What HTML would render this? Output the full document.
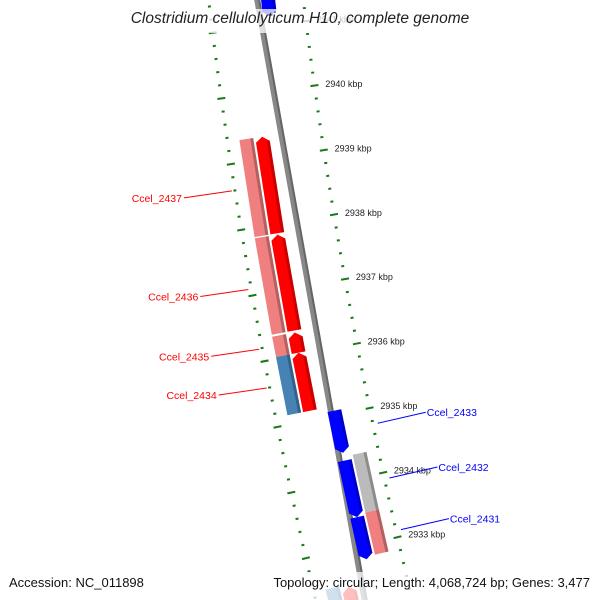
<!DOCTYPE html>
<html><head><meta charset="utf-8"><style>
html,body{margin:0;background:#fff;overflow:hidden;width:600px;height:600px}
svg{display:block;font-family:"Liberation Sans",sans-serif;overflow:hidden}
</style></head><body>
<svg id="map" width="600" height="600" viewBox="0 0 600 600" xmlns="http://www.w3.org/2000/svg">
<g id="layer"></g>
<rect x="0" y="9" width="600" height="24" fill="#fff" opacity="0.75"/>
<rect x="0" y="572" width="600" height="28" fill="#fff" opacity="0.75"/>
<text x="300" y="23" text-anchor="middle" font-size="15.5" font-style="italic" fill="#222">Clostridium cellulolyticum H10, complete genome</text>
<text x="9" y="587" font-size="13" fill="#111">Accession: NC_011898</text>
<text x="590" y="587" text-anchor="end" font-size="13" fill="#111">Topology: circular; Length: 4,068,724 bp; Genes: 3,477</text>
</svg>
<script>
// data (kbp positions)
const arrowStart = [2939.34, 2937.84, 2936.34, 2936.03, 2935.07, 2934.30, 2933.43, 2941.72, 2932.44];
const arrowEnd   = [2937.86, 2936.37, 2936.03, 2935.14, 2934.42, 2933.43, 2932.78, 2941.14, 2931.80];
const arrowStrand = [-1, -1, -1, -1, 1, 1, 1, 1, -1];
const trackStart = [2939.34, 2937.84, 2936.34, 2936.03, 2934.36, 2933.47, 2932.48];
const trackEnd   = [2937.86, 2936.37, 2936.03, 2935.14, 2933.47, 2932.82, 2931.80];
const trackColor = ["#f08080","#f08080","#f08080","#4682b4","#bbbbbb","#f08080","#4682b4"];
const trackSide = [-1,-1,-1,-1,1,1,-1];
const tickKbp = [2941, 2940, 2939, 2938, 2937, 2936, 2935, 2934, 2933];
const tickLabels = ["2941 kbp","2940 kbp","2939 kbp","2938 kbp","2937 kbp","2936 kbp","2935 kbp","2934 kbp","2933 kbp"];
const geneNames = ["Ccel_2437","Ccel_2436","Ccel_2435","Ccel_2434","Ccel_2433","Ccel_2432","Ccel_2431"];
const geneKbp = [2938.60, 2937.10, 2936.19, 2935.60, 2934.75, 2933.90, 2933.10];
const geneSide = [-1,-1,-1,-1,1,1,1];

const NS="http://www.w3.org/2000/svg";
const layer=document.getElementById('layer');
function yOf(kb){return 92+(2940-kb)*65.1;}
function bx(y){return 256+0.12*y+0.0001*y*y;}
function P(d,y){const s=0.12+0.0002*y;const n=Math.sqrt(1+s*s);return [bx(y)+d/n, y-d*s/n];}
function poly(pts,fill,name){const p=document.createElementNS(NS,'polygon');
p.setAttribute('points',pts.map(q=>q[0].toFixed(1)+','+q[1].toFixed(1)).join(' '));
p.setAttribute('fill',fill);


layer.appendChild(p);return p;}
function band(d1,d2,y1,y2,fill,name){return poly([P(d1,y1),P(d2,y1),P(d2,y2),P(d1,y2)],fill,name);}
function line(a,b,col,w,name){const l=document.createElementNS(NS,'line');
l.setAttribute('x1',a[0]);l.setAttribute('y1',a[1]);l.setAttribute('x2',b[0]);l.setAttribute('y2',b[1]);
l.setAttribute('stroke',col);l.setAttribute('stroke-width',w);


layer.appendChild(l);}
function text(x,y,s,size,col,anchor,name){const t=document.createElementNS(NS,'text');
t.setAttribute('x',x);t.setAttribute('y',y);t.setAttribute('font-size',size);t.setAttribute('fill',col);
if(anchor)t.setAttribute('text-anchor',anchor);t.textContent=s;


layer.appendChild(t);}

// backbone
band(-3,3,-20,610,'#888','backbone');
band(1,3,-20,610,'#666','backbone-shade');

// ticks
for(let kb=2942;kb>=2931.6;kb-=0.2){
  const k=Math.round(kb*10)/10;const y=yOf(k);
  if(y>605||y<-5)continue;
  const major=Math.abs(k-Math.round(k))<0.01;
  const len=major?4:1.5;
  for(const side of [-1,1]){
    const r=47*side;
    band(r-len,r+len,y-1,y+1,'#1a7a1a',major?'major-tick':'minor-tick');
  }
}
tickKbp.forEach((kb,i)=>{const p=P(58,yOf(kb));text(p[0],p[1]+3,tickLabels[i],9,'#222',null,'tick-label');});

// tracks (outer, offset 28)
trackStart.forEach((s,i)=>{
  const y1=yOf(s),y2=Math.min(yOf(trackEnd[i]),605);const c=28*trackSide[i];
  band(c-7,c+7,y1,y2,trackColor[i],'cog-track-bar');
  band(c+4,c+7,y1,y2,'rgba(0,0,0,0.25)','cog-track-shade');
});
// arrows (inner, offset 12)
arrowStart.forEach((s,i)=>{
  const y1=yOf(s),y2=yOf(arrowEnd[i]);const c=12*(arrowStrand[i]>0?1:-1);
  const col=arrowStrand[i]>0?'#0000ff':'#ff0000';
  const top=Math.max(Math.min(y1,y2),-10),bot=Math.min(Math.max(y1,y2),605);
  let pts;
  if(arrowStrand[i]<0){
    pts=[P(c,top),P(c+7,top+5),P(c+7,bot),P(c-7,bot),P(c-7,top+5)];
  } else {
    pts=[P(c-7,top),P(c+7,top),P(c+7,bot-5),P(c,bot),P(c-7,bot-5)];
  }
  poly(pts,col,'gene-arrow');
  band(c+4,c+7,top+(arrowStrand[i]<0?5:0),bot-(arrowStrand[i]<0?0:5),'rgba(0,0,0,0.22)','gene-arrow-shade');
});
// gene labels
geneNames.forEach((n,i)=>{
  const y=yOf(geneKbp[i]);
  if(geneSide[i]<0){
    const a=P(-50,y);const b=[a[0]-48,a[1]+7];
    line(a,b,'#ff0000',1,'label-leader');
    text(b[0]-2,b[1]+4,n,10.5,'#ff0000','end','gene-label');
  } else {
    const a=P(52,y);const b=[a[0]+48,a[1]-11];
    line(a,b,'#0000ff',1,'label-leader');
    text(b[0]+1,b[1]+4,n,10.5,'#0000ff',null,'gene-label');
  }
});
</script>
</body></html>
